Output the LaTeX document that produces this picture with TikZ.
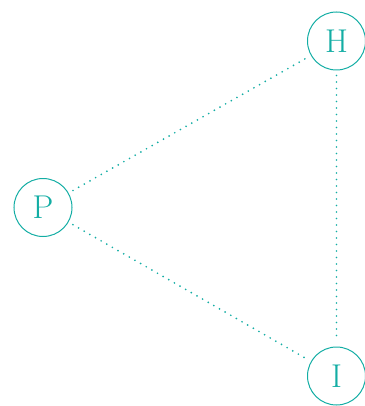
\documentclass[tikz,border=0pt]{standalone}
\usepackage{tikz}
\usetikzlibrary{positioning}
\definecolor{TealLine}{HTML}{13ADA4}
\tikzset{
  tnode/.style={draw=TealLine, circle, line width=1pt, minimum size=58pt, inner sep=0pt,
                text=TealLine, font=\fontsize{33}{38}\selectfont},
  tlink/.style={TealLine, line width=1.9pt, line cap=round, dash pattern=on 0pt off 6.5pt, shorten <=5pt, shorten >=5pt}
}
\begin{document}
\begin{tikzpicture}[x=1pt, y=-1pt]
\useasboundingbox (0,0) rectangle (364,406);
\node[tnode] (h) at (336.5,41) {H};
\node[tnode] (p) at (43,207.5) {P};
\node[tnode] (i) at (336.5,376) {I};
\draw[tlink] (p) -- (h);
\draw[tlink] (p) -- (i);
\draw[tlink] (h) -- (i);
\end{tikzpicture}
\end{document}
